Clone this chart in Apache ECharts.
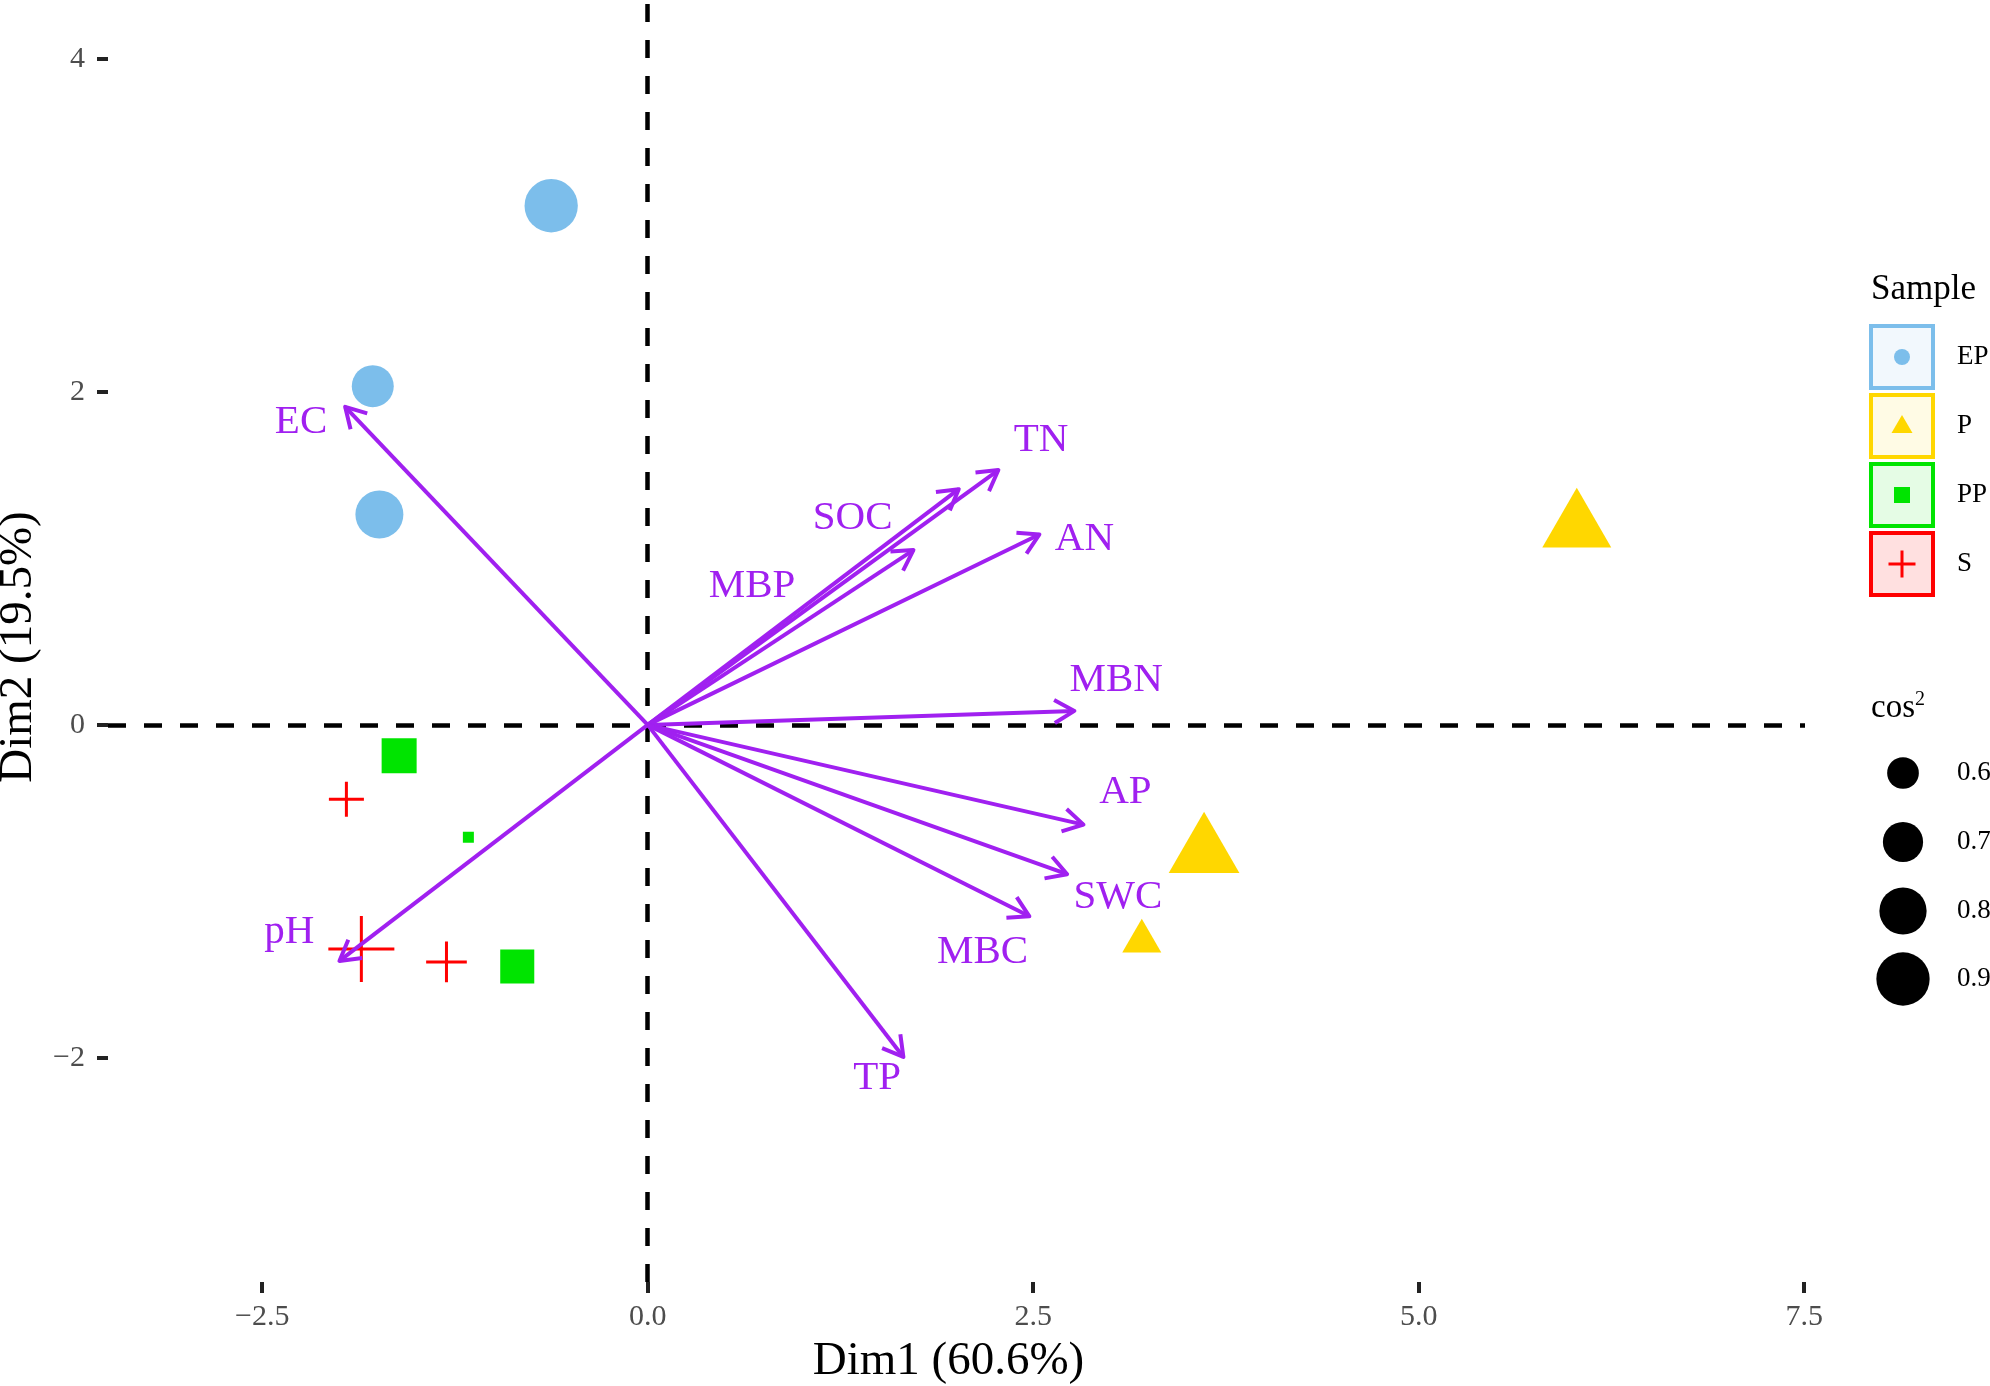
<!DOCTYPE html>
<html>
<head>
<meta charset="utf-8">
<script src="https://cdn.jsdelivr.net/npm/echarts@6/dist/echarts.min.js"></script>
<style>
html,body{margin:0;padding:0;background:#fff;}
#chart{width:1990px;height:1386px;}
</style>
</head>
<body>
<div id="chart"></div>
<script>
// ---------- data ----------
const xTicks = [-2.5, 0, 2.5, 5, 7.5];
const yTicks = [-2, 0, 2, 4];

const epX = [-0.626, -1.783, -1.740];
const epY = [3.119, 2.035, 1.264];
const epCos2 = [0.900, 0.724, 0.812];

const pX = [3.608, 3.204, 6.025];
const pY = [-0.767, -1.300, 1.186];
const pCos2 = [0.886, 0.573, 0.864];

const ppX = [-1.612, -1.163, -0.846];
const ppY = [-0.185, -0.675, -1.452];
const ppCos2 = [0.691, 0.461, 0.677];

const sX = [-1.954, -1.857, -1.305];
const sY = [-0.447, -1.346, -1.424];
const sCos2 = [0.536, 0.792, 0.571];

const varNames = ['EC', 'pH', 'TN', 'SOC', 'MBP', 'AN', 'MBN', 'AP', 'SWC', 'MBC', 'TP'];
const varX = [-1.962, -1.999, 2.274, 2.017, 1.723, 2.540, 2.767, 2.826, 2.720, 2.475, 1.658];
const varY = [1.911, -1.418, 1.531, 1.416, 1.050, 1.144, 0.084, -0.599, -0.897, -1.150, -1.995];
const varLabelX = [-2.248, -2.324, 2.551, 1.329, 0.677, 2.832, 3.038, 3.098, 3.049, 2.172, 1.488];
const varLabelY = [1.821, -1.244, 1.711, 1.240, 0.834, 1.114, 0.270, -0.407, -1.035, -1.364, -2.125];

const groupNames = ['EP', 'P', 'PP', 'S'];
const cos2Breaks = [0.6, 0.7, 0.8, 0.9];

// ---------- styles ----------
const FONT = '"Liberation Serif", "Times New Roman", serif';
const C_EP = '#7CBEEB', C_P = '#FFD700', C_PP = '#00E400', C_S = '#FF0000';
const PURPLE = '#A020F0';
const groupColors = [C_EP, C_P, C_PP, C_S];
const groupTints = ['rgba(124,190,235,0.10)', 'rgba(255,215,0,0.10)', 'rgba(0,228,0,0.10)', 'rgba(255,0,0,0.12)'];

// diameter (px) of the equivalent circle for a cos2 value
function diam(c) { return Math.sqrt(Math.max(6120 * c - 2667, 20)); }

function pts(xs, ys, cs) { return xs.map((x, i) => [x, ys[i], cs[i]]); }

const chart = echarts.init(document.getElementById('chart'), null, {renderer: 'canvas'});

const fmtX = v => (v < 0 ? '\u2212' + Math.abs(v).toFixed(1) : v.toFixed(1));
const fmtY = v => (v < 0 ? '\u2212' + Math.abs(v) : String(v));

// legend graphics
const graphics = [];
graphics.push({type: 'text', x: 1871, y: 290, style: {text: 'Sample', font: '35px ' + FONT, fill: '#000', align: 'left', verticalAlign: 'middle'}});
const keyY = [357, 426, 495, 564];
keyY.forEach((cy, i) => {
  graphics.push({type: 'rect', shape: {x: 1871, y: cy - 31, width: 62, height: 62}, style: {fill: groupTints[i], stroke: groupColors[i], lineWidth: 4}});
  graphics.push({type: 'text', x: 1957, y: cy, style: {text: groupNames[i], font: '27px ' + FONT, fill: '#000', align: 'left', verticalAlign: 'middle'}});
});
const kx = 1902;
graphics.push({type: 'circle', shape: {cx: kx, cy: keyY[0], r: 8}, style: {fill: C_EP}});
graphics.push({type: 'polygon', shape: {points: [[kx, keyY[1] - 11], [kx + 10.5, keyY[1] + 7], [kx - 10.5, keyY[1] + 7]]}, style: {fill: C_P}});
graphics.push({type: 'rect', shape: {x: kx - 8, y: keyY[2] - 8, width: 16, height: 16}, style: {fill: C_PP}});
graphics.push({type: 'line', shape: {x1: kx - 13.5, y1: keyY[3], x2: kx + 13.5, y2: keyY[3]}, style: {stroke: C_S, lineWidth: 3}});
graphics.push({type: 'line', shape: {x1: kx, y1: keyY[3] - 13.5, x2: kx, y2: keyY[3] + 13.5}, style: {stroke: C_S, lineWidth: 3}});

graphics.push({type: 'text', x: 1871, y: 708, style: {
  text: '{b|cos}{s|2}', fill: '#000', align: 'left', verticalAlign: 'middle',
  rich: {b: {fontSize: 33, fontFamily: FONT, fill: '#000'}, s: {fontSize: 20, fontFamily: FONT, fill: '#000', verticalAlign: 'top', padding: [0, 0, 16, 0]}}
}});
const sizeKeyY = [773, 842, 911, 979];
cos2Breaks.forEach((c, i) => {
  graphics.push({type: 'circle', shape: {cx: 1903, cy: sizeKeyY[i], r: diam(c) / 2}, style: {fill: '#000'}});
  graphics.push({type: 'text', x: 1957, y: sizeKeyY[i], style: {text: c.toFixed(1), font: '27px ' + FONT, fill: '#000', align: 'left', verticalAlign: 'middle'}});
});

const option = {
  backgroundColor: '#fff',
  animation: false,
  grid: {left: 108, right: 185, top: 0, bottom: 104, containLabel: false, outerBoundsMode: 'none'},
  xAxis: {
    type: 'value', min: -3.5, max: 7.505,
    axisLine: {show: false, onZero: false},
    splitLine: {show: false},
    axisTick: {show: true, customValues: xTicks, length: 11, lineStyle: {color: '#222', width: 4}},
    axisLabel: {customValues: xTicks, formatter: fmtX, color: '#4D4D4D', fontSize: 30, fontFamily: FONT, margin: 20},
    name: 'Dim1 (60.6%)', nameLocation: 'middle', nameGap: 56,
    nameTextStyle: {fontSize: 47, fontFamily: FONT, color: '#000', padding: [0, 16, 0, 0]}
  },
  yAxis: {
    type: 'value', min: -3.347, max: 4.355,
    axisLine: {show: false, onZero: false},
    splitLine: {show: false},
    axisTick: {show: true, customValues: yTicks, length: 11, lineStyle: {color: '#222', width: 4}},
    axisLabel: {customValues: yTicks, formatter: fmtY, color: '#4D4D4D', fontSize: 30, fontFamily: FONT, margin: 23},
    name: 'Dim2 (19.5%)', nameLocation: 'middle', nameGap: 60, nameRotate: 90,
    nameTextStyle: {fontSize: 47, fontFamily: FONT, color: '#000', padding: [0, 12, 0, 0]}
  },
  graphic: graphics,
  series: [
    {
      type: 'scatter', name: 'EP', z: 2,
      data: pts(epX, epY, epCos2),
      symbol: 'circle',
      symbolSize: v => diam(v[2]),
      itemStyle: {color: C_EP, opacity: 1},
      markLine: {
        silent: true, symbol: 'none', z: 1,
        label: {show: false},
        lineStyle: {color: '#000', width: 4.5, type: [18, 18], opacity: 1},
        data: [{xAxis: 0}, {yAxis: 0}]
      }
    },
    {
      type: 'scatter', name: 'P', z: 3,
      data: pts(pX, pY, pCos2),
      symbol: 'triangle',
      symbolSize: v => { const w = diam(v[2]) * 1.347; return [w, w * 0.866]; },
      symbolOffset: v => { const w = diam(v[2]) * 1.347; return [0, -w * 0.866 / 6]; },
      itemStyle: {color: C_P, opacity: 1}
    },
    {
      type: 'scatter', name: 'PP', z: 3,
      data: pts(ppX, ppY, ppCos2),
      symbol: 'rect',
      symbolSize: v => diam(v[2]) * 0.886,
      itemStyle: {color: C_PP, opacity: 1}
    },
    {
      type: 'scatter', name: 'S', z: 3,
      data: pts(sX, sY, sCos2),
      symbol: 'path://M0,10L20,10M10,0L10,20',
      symbolSize: v => diam(v[2]) * 1.414,
      itemStyle: {color: 'rgba(0,0,0,0)', borderColor: C_S, borderWidth: 3, opacity: 1}
    },
    {
      type: 'custom', name: 'arrows', z: 4,
      data: varX.map((x, i) => [x, varY[i]]),
      renderItem: (params, api) => {
        const o = api.coord([0, 0]);
        const e = api.coord([api.value(0), api.value(1)]);
        const ang = Math.atan2(e[1] - o[1], e[0] - o[0]);
        const L = 23, a = Math.PI / 6;
        const b1 = [e[0] - L * Math.cos(ang - a), e[1] - L * Math.sin(ang - a)];
        const b2 = [e[0] - L * Math.cos(ang + a), e[1] - L * Math.sin(ang + a)];
        return {
          type: 'group',
          children: [
            {type: 'line', shape: {x1: o[0], y1: o[1], x2: e[0], y2: e[1]}, style: {stroke: PURPLE, lineWidth: 4}},
            {type: 'polyline', shape: {points: [b1, e, b2]}, style: {stroke: PURPLE, lineWidth: 4, fill: null, lineJoin: 'round'}}
          ]
        };
      }
    },
    {
      type: 'custom', name: 'varLabels', z: 5,
      data: varLabelX.map((x, i) => [x, varLabelY[i]]),
      renderItem: (params, api) => {
        const p = api.coord([api.value(0), api.value(1)]);
        return {
          type: 'text', x: p[0], y: p[1],
          style: {text: varNames[params.dataIndex], fill: PURPLE, font: '41px ' + FONT, align: 'center', verticalAlign: 'middle'}
        };
      }
    }
  ]
};
chart.setOption(option);
</script>
</body>
</html>
